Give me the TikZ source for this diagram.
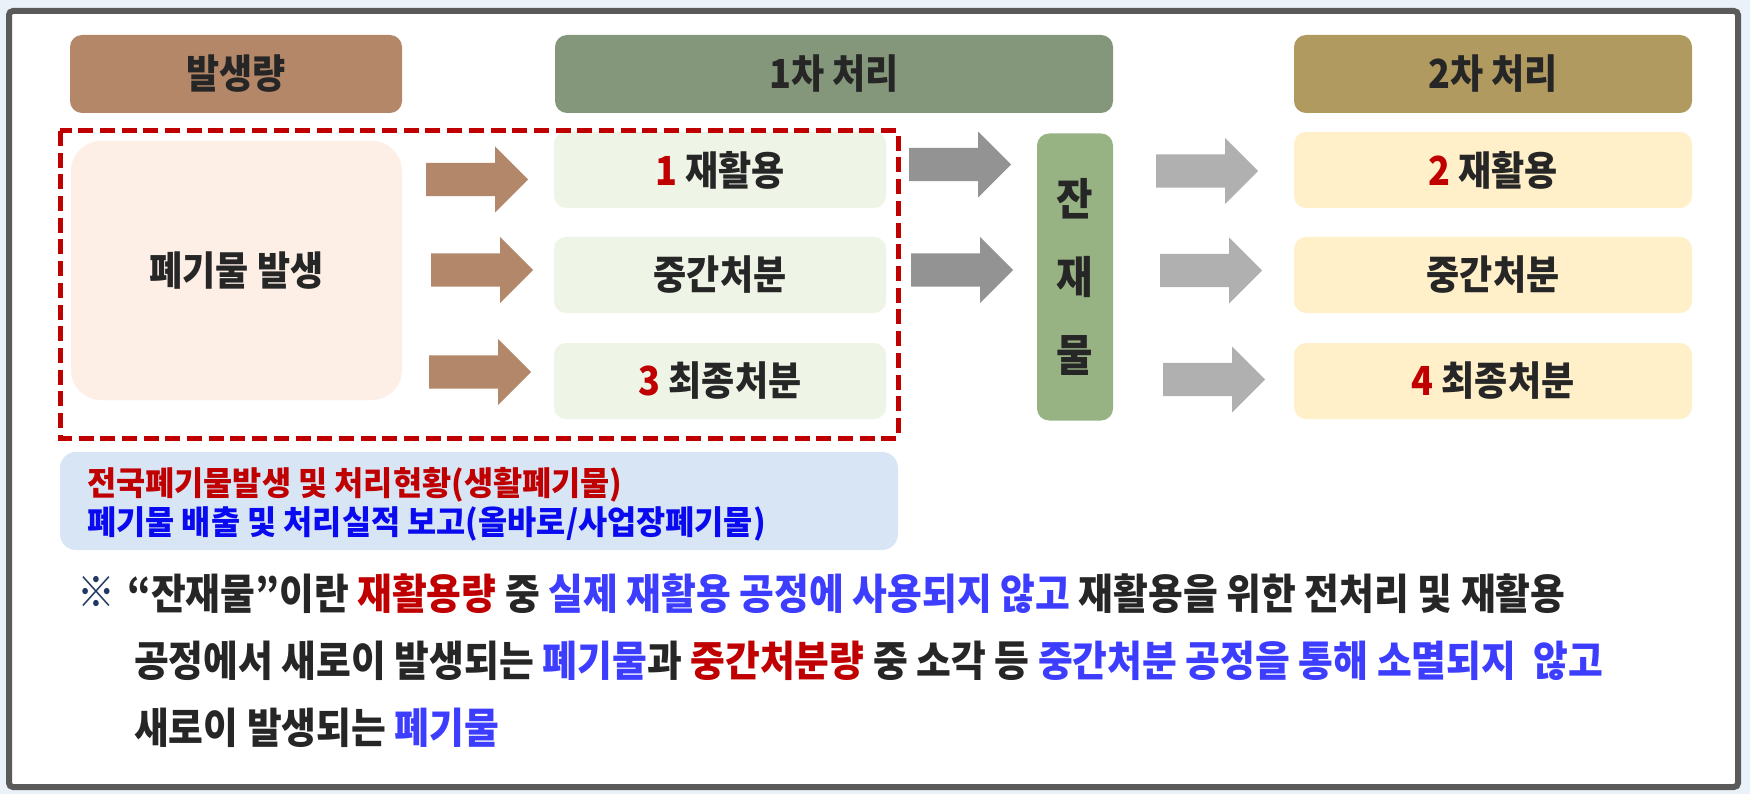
\documentclass[tikz,border=0pt]{standalone}
\usepackage{fontspec}
\newfontfamily\kr{Noto Sans CJK KR}[FakeStretch=0.9, BoldFont={Noto Sans CJK KR Black}]
\newfontfamily\krw{Noto Sans CJK KR}[FakeStretch=0.96, BoldFont={Noto Sans CJK KR Black}]
\definecolor{bgblue}{HTML}{EAF1F9}
\definecolor{framec}{HTML}{5A5A5A}
\definecolor{hdrA}{HTML}{B38768}
\definecolor{hdrB}{HTML}{84977A}
\definecolor{hdrC}{HTML}{B09A60}
\definecolor{pinkbox}{HTML}{FDEFE6}
\definecolor{greenbox}{HTML}{EEF5E7}
\definecolor{midgreen}{HTML}{97B384}
\definecolor{yellowbox}{HTML}{FFF0C9}
\definecolor{bluebox}{HTML}{D7E5F5}
\definecolor{arrowbrown}{HTML}{B38769}
\definecolor{arrowgray}{HTML}{939393}
\definecolor{arrowlight}{HTML}{B0B0B0}
\definecolor{redt}{HTML}{C00000}
\definecolor{bluet}{HTML}{0A0AF0}
\definecolor{noteblue}{HTML}{3D3DFF}
\definecolor{navy}{HTML}{1F3864}
\definecolor{textdark}{HTML}{262626}
\begin{document}
\begin{tikzpicture}[x=1pt,y=-1pt,
  box/.style={rounded corners=12pt, inner sep=0pt, text=textdark, align=center,
    font=\kr\bfseries\fontsize{40}{42}\selectfont},
  hdr/.style={box, minimum height=78pt},
  stage/.style={box, minimum height=76pt},
  infotext/.style={anchor=base west, inner sep=0pt, font=\krw\bfseries\fontsize{33}{35}\selectfont},
  notetext/.style={anchor=base west, inner sep=0pt, text=textdark, font=\kr\bfseries\fontsize{42}{44}\selectfont},
  barrow/.pic={\fill[pic actions] (0,-16.7) -- (69,-16.7) -- (69,-33) -- (102,0) -- (69,33) -- (69,16.7) -- (0,16.7) -- cycle;}
]
\fill[bgblue] (0,0) rectangle (1750,794);
\useasboundingbox (0,0) rectangle (1750,794);
\draw[framec, line width=6pt, rounded corners=4pt, fill=white] (9,11) rectangle (1738,787);

% headers
\node[hdr, fill=hdrA, minimum width=332pt] (h1) at (236,74) {발생량};
\node[hdr, fill=hdrB, minimum width=558pt] (h2) at (834,74) {1차 처리};
\node[hdr, fill=hdrC, minimum width=398pt] (h3) at (1493,74) {2차 처리};

% generation box
\node[box, fill=pinkbox, rounded corners=30pt, minimum width=331pt, minimum height=259pt] (gen) at (236.5,270.5) {폐기물 발생};

% first stage
\node[stage, fill=greenbox, minimum width=332pt] (p1) at (720,170) {{\color{redt}1} 재활용};
\node[stage, fill=greenbox, minimum width=332pt] (p2) at (720,275) {중간처분};
\node[stage, fill=greenbox, minimum width=332pt] (p3) at (720,381) {{\color{redt}3} 최종처분};

% residue
\node[box, fill=midgreen, minimum width=76pt, minimum height=287pt,
  font=\kr\bfseries\fontsize{44}{78}\selectfont] (res) at (1075,277) {잔\\재\\물};

% second stage
\node[stage, fill=yellowbox, minimum width=398pt] (s1) at (1493,170) {{\color{redt}2} 재활용};
\node[stage, fill=yellowbox, minimum width=398pt] (s2) at (1493,275) {중간처분};
\node[stage, fill=yellowbox, minimum width=398pt] (s3) at (1493,381) {{\color{redt}4} 최종처분};

% dashed frame
\draw[redt, line width=5pt, dash pattern=on 15pt off 6.7pt] (60,131) rectangle (898,438);

% arrows
\pic[fill=arrowbrown] (ab1) at (426,179.5) {barrow};
\pic[fill=arrowbrown] (ab2) at (431,270) {barrow};
\pic[fill=arrowbrown] (ab3) at (429,372) {barrow};
\pic[fill=arrowgray] (ag1) at (909,164.5) {barrow};
\pic[fill=arrowgray] (ag2) at (911,270) {barrow};
\pic[fill=arrowlight] (al1) at (1156,171) {barrow};
\pic[fill=arrowlight] (al2) at (1160,270.5) {barrow};
\pic[fill=arrowlight] (al3) at (1163,379.5) {barrow};

% source box
\node[fill=bluebox, rounded corners=16pt, minimum width=838pt, minimum height=98pt, inner sep=0pt] (src) at (479,501) {};
\node[infotext, text=redt] (src1) at (87,495) {전국폐기물발생 및 처리현황(생활폐기물)};
\node[infotext, text=bluet] (src2) at (87,534) {폐기물 배출 및 처리실적 보고(올바로/사업장폐기물)};

% note
\node[notetext, text=navy] (mark) at (77,607) {※};
\node[notetext] (n1) at (127,609) {“잔재물”이란 {\color{redt}재활용량} 중 {\color{noteblue}실제 재활용 공정에 사용되지 않고} 재활용을 위한 전처리 및 재활용};
\node[notetext] (n2) at (134,676) {공정에서 새로이 발생되는 {\color{noteblue}폐기물}과 {\color{redt}중간처분량} 중 소각 등 {\color{noteblue}중간처분 공정을 통해 소멸되지\ \ 않고}};
\node[notetext] (n3) at (134,743) {새로이 발생되는 {\color{noteblue}폐기물}};
\end{tikzpicture}
\end{document}
